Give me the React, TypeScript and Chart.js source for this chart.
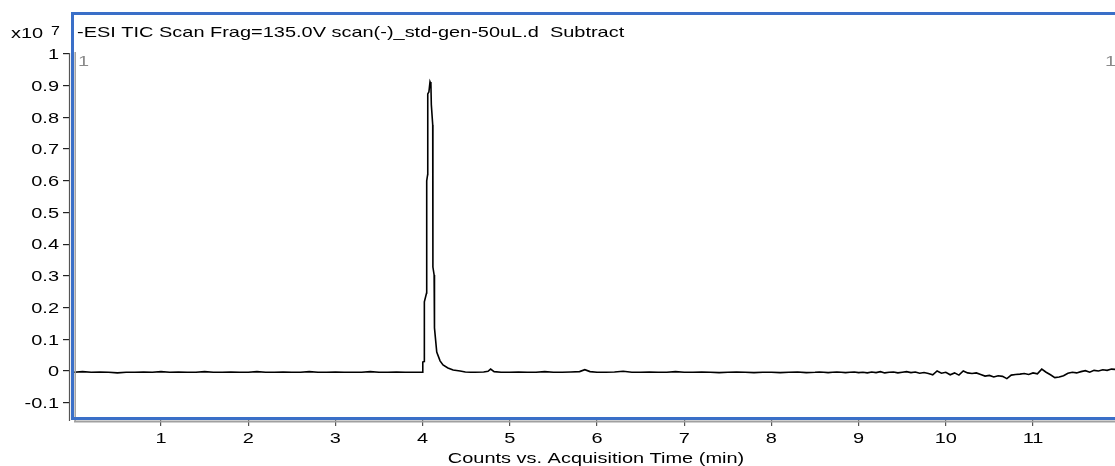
import React, { useEffect, useRef } from "react";
import { Chart, registerables } from "chart.js";

Chart.register(...registerables);

// ---- Data (intensity in units of x10^7 counts, time in minutes) ----
const preTimes = [
  0.0, 0.1, 0.2, 0.3, 0.4, 0.5, 0.6, 0.7, 0.8, 0.9,
  1.0, 1.1, 1.2, 1.3, 1.4, 1.5, 1.6, 1.7, 1.8, 1.9,
  2.0, 2.1, 2.2, 2.3, 2.4, 2.5, 2.6, 2.7, 2.8, 2.9,
  3.0, 3.1, 3.2, 3.3, 3.4, 3.5, 3.6, 3.7, 3.8, 3.9, 3.98,
];
const preValues = [
  -0.004, -0.002, -0.004, -0.003, -0.004, -0.006, -0.004, -0.004, -0.003, -0.004,
  -0.002, -0.004, -0.003, -0.004, -0.004, -0.002, -0.004, -0.004, -0.003, -0.004,
  -0.004, -0.002, -0.004, -0.004, -0.003, -0.004, -0.004, -0.002, -0.004, -0.004,
  -0.003, -0.004, -0.004, -0.004, -0.002, -0.004, -0.004, -0.003, -0.004, -0.004, -0.004,
];

const peakTimes = [
  3.995, 4.001, 4.003, 4.018, 4.02, 4.045, 4.047, 4.058, 4.059, 4.072,
  4.085, 4.095, 4.1, 4.116, 4.118, 4.132, 4.136, 4.162, 4.2, 4.234,
  4.29, 4.35, 4.43, 4.49,
];
const peakValues = [
  -0.004, 0.005, 0.028, 0.03, 0.218, 0.246, 0.6, 0.62, 0.874, 0.88,
  0.912, 0.905, 0.84, 0.776, 0.328, 0.303, 0.136, 0.06, 0.032, 0.019,
  0.0095, 0.003, 0.0, -0.003,
];

const postTimes = [
  4.55, 4.6, 4.7, 4.75, 4.78, 4.82, 4.9,
  5.0, 5.1, 5.2, 5.3, 5.4, 5.5, 5.6, 5.7, 5.8, 5.86, 5.92,
  6.0, 6.1, 6.2, 6.3, 6.4, 6.5, 6.6, 6.7, 6.8, 6.9,
  7.0, 7.1, 7.2, 7.3, 7.4, 7.5, 7.6, 7.7, 7.8, 7.9,
  8.0, 8.1, 8.2, 8.3, 8.4,
];
const postValues = [
  -0.004, -0.004, -0.003, -0.001, 0.006, -0.002, -0.004,
  -0.004, -0.003, -0.004, -0.004, -0.002, -0.004, -0.004, -0.003, -0.002, 0.004, -0.002,
  -0.004, -0.004, -0.003, -0.001, -0.004, -0.004, -0.003, -0.004, -0.004, -0.002,
  -0.004, -0.004, -0.003, -0.004, -0.005, -0.004, -0.003, -0.004, -0.005, -0.004,
  -0.004, -0.005, -0.004, -0.003, -0.005,
];

const tailTimes = [
  8.5, 8.55, 8.6, 8.65, 8.7, 8.75, 8.8, 8.85, 8.9, 8.95,
  9.0, 9.05, 9.1, 9.15, 9.2, 9.25, 9.3, 9.35, 9.4, 9.45,
  9.5, 9.55, 9.6, 9.65, 9.7, 9.75, 9.8, 9.85, 9.9, 9.95,
  10.0, 10.05, 10.1, 10.15, 10.2, 10.25, 10.3, 10.35, 10.4, 10.45,
  10.5, 10.55, 10.6, 10.65, 10.7, 10.75, 10.8, 10.85, 10.9, 10.95,
  11.0, 11.05, 11.1, 11.15, 11.2, 11.25, 11.3, 11.35, 11.4, 11.45,
  11.5, 11.55, 11.6, 11.65, 11.7, 11.75, 11.8, 11.85, 11.9, 11.95,
];
const tailValues = [
  -0.004, -0.003, -0.004, -0.005, -0.004, -0.003, -0.004, -0.005, -0.004, -0.003,
  -0.005, -0.004, -0.006, -0.003, -0.005, -0.002, -0.006, -0.004, -0.003, -0.006,
  -0.004, -0.002, -0.005, -0.003, -0.007, -0.005, -0.008, -0.012, 0.0, -0.007,
  -0.004, -0.012, -0.006, -0.013, 0.0, -0.006, -0.008, -0.006, -0.011, -0.016,
  -0.014, -0.019, -0.015, -0.017, -0.024, -0.013, -0.011, -0.01, -0.008, -0.011,
  -0.006, -0.009, 0.006, -0.004, -0.012, -0.021, -0.019, -0.015, -0.007, -0.004,
  -0.006, -0.002, 0.001, -0.004, 0.002, 0.0, 0.004, 0.002, 0.006, 0.005,
];

const xTickValues = [1, 2, 3, 4, 5, 6, 7, 8, 9, 10, 11];
const xTickLabels = ["1", "2", "3", "4", "5", "6", "7", "8", "9", "10", "11"];
const yTickValues = [1, 0.9, 0.8, 0.7, 0.6, 0.5, 0.4, 0.3, 0.2, 0.1, 0, -0.1];
const yTickLabels = ["1", "0.9", "0.8", "0.7", "0.6", "0.5", "0.4", "0.3", "0.2", "0.1", "0", "-0.1"];

const titleText = "-ESI TIC Scan Frag=135.0V scan(-)_std-gen-50uL.d  Subtract";
const xAxisTitle = "Counts vs. Acquisition Time (min)";
const exponentBase = "x10";
const exponentPower = "7";
const segmentMarker = "1";

const X_MIN = -0.0436;
const X_MAX = 11.94;
const Y_MIN = -0.1546;
const Y_MAX = 1.1293;

const FONT = '"Liberation Sans", Arial, sans-serif';
const SX = 1.33;

function drawText(
  ctx: CanvasRenderingContext2D,
  text: string,
  x: number,
  y: number,
  align: CanvasTextAlign,
  size: number,
  color: string
) {
  ctx.save();
  ctx.font = `${size}px ${FONT}`;
  ctx.fillStyle = color;
  ctx.textAlign = align;
  ctx.textBaseline = "alphabetic";
  ctx.scale(SX, 1);
  ctx.fillText(text, x / SX, y);
  ctx.restore();
}

const decorPlugin = {
  id: "decor",
  afterDatasetsDraw(chart: any) {
    const ctx: CanvasRenderingContext2D = chart.ctx;
    const xs = chart.scales.x;
    const ys = chart.scales.y;
    const area = chart.chartArea;
    const yTop = ys.getPixelForValue(1);

    ctx.save();
    // y axis line (outside frame)
    ctx.strokeStyle = "#555";
    ctx.lineWidth = 1.2;
    ctx.beginPath();
    ctx.moveTo(area.left - 0.5, yTop - 1);
    ctx.lineTo(area.left - 0.5, area.bottom + 1);
    ctx.stroke();

    // gray inner shadow lines
    ctx.strokeStyle = "#a0a0a0";
    ctx.lineWidth = 1.5;
    ctx.beginPath();
    ctx.moveTo(area.left + 5.2, yTop - 2);
    ctx.lineTo(area.left + 5.2, area.bottom + 1);
    ctx.stroke();
    ctx.lineWidth = 2;
    ctx.beginPath();
    ctx.moveTo(area.left + 4, area.bottom + 1.5);
    ctx.lineTo(area.right + 2, area.bottom + 1.5);
    ctx.stroke();

    // blue frame
    ctx.strokeStyle = "#3a6fc8";
    ctx.lineWidth = 3;
    ctx.strokeRect(area.left + 2.5, area.top + 0.5, area.right - area.left + 20, area.bottom - area.top - 2);
    ctx.restore();

    // texts
    drawText(ctx, exponentBase, 11, 38, "left", 15, "#000");
    drawText(ctx, exponentPower, 51, 35, "left", 12, "#000");
    drawText(ctx, titleText, 77, 37, "left", 15, "#000");
    drawText(ctx, segmentMarker, 78, 66, "left", 15, "#8a8a8a");
    drawText(ctx, segmentMarker, 1105, 66, "left", 15, "#8a8a8a");

    yTickValues.forEach((v, i) => {
      const py = ys.getPixelForValue(v);
      drawText(ctx, yTickLabels[i], 59, py + 5.3, "right", 15, "#000");
    });
    xTickValues.forEach((v, i) => {
      const px = xs.getPixelForValue(v);
      drawText(ctx, xTickLabels[i], px, 443, "center", 15, "#000");
    });
    drawText(ctx, xAxisTitle, 596, 463, "center", 15, "#000");
  },
};

export default function App() {
  const canvasRef = useRef<HTMLCanvasElement | null>(null);

  useEffect(() => {
    document.body.style.margin = "0";
    const canvas = canvasRef.current;
    if (!canvas) return;

    const times = [...preTimes, ...peakTimes, ...postTimes, ...tailTimes];
    const values = [...preValues, ...peakValues, ...postValues, ...tailValues];
    const points = times.map((t, i) => ({ x: t, y: values[i] }));

    const chart = new Chart(canvas, {
      type: "line",
      data: {
        datasets: [
          {
            data: points,
            borderColor: "#000",
            borderWidth: 1.6,
            pointRadius: 0,
            tension: 0,
            fill: false,
          },
        ],
      },
      options: {
        animation: false,
        responsive: false,
        devicePixelRatio: 1,
        layout: { padding: { top: 13, right: 0, bottom: 0, left: 0 } },
        plugins: {
          legend: { display: false },
          tooltip: { enabled: false },
          title: { display: false },
        },
        scales: {
          x: {
            type: "linear",
            min: X_MIN,
            max: X_MAX,
            afterBuildTicks: (s: any) => {
              s.ticks = xTickValues.map((v) => ({ value: v }));
            },
            ticks: { display: false },
            grid: {
              drawOnChartArea: false,
              drawTicks: true,
              tickLength: 6,
              color: "#555",
              lineWidth: 1.2,
            },
            border: { display: false },
            afterFit: (s: any) => {
              s.height = 46;
            },
          },
          y: {
            type: "linear",
            min: Y_MIN,
            max: Y_MAX,
            afterBuildTicks: (s: any) => {
              s.ticks = yTickValues.map((v) => ({ value: v }));
            },
            ticks: { display: false },
            grid: {
              drawOnChartArea: false,
              drawTicks: true,
              tickLength: 7,
              color: "#222",
              lineWidth: 1.2,
            },
            border: { display: false },
            afterFit: (s: any) => {
              s.width = 70;
            },
          },
        },
      } as any,
      plugins: [decorPlugin],
    });

    return () => chart.destroy();
  }, []);

  return (
    <div style={{ width: 1115, height: 466 }}>
      <canvas ref={canvasRef} width={1115} height={466} style={{ display: "block" }} />
    </div>
  );
}
